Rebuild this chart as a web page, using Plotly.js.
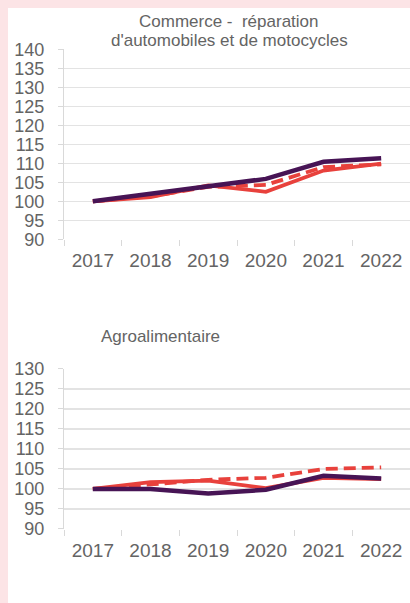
<!DOCTYPE html>
<html>
<head>
<meta charset="utf-8">
<script src="https://cdn.plot.ly/plotly-3.0.1.min.js"></script>
<style>
html, body { margin: 0; padding: 0; background: #fce4e6; width: 410px; height: 603px; overflow: hidden; }
#chart { position: absolute; left: 8px; top: 8px; width: 402px; height: 595px; background: #ffffff; }
</style>
</head>
<body>
<div id="chart"></div>
<script>
// Data
const years = ['2017', '2018', '2019', '2020', '2021', '2022'];

const commercePurple = [100, 102.0, 103.8, 105.9, 110.4, 111.3];
const commerceRed = [100, 101.1, 104.2, 102.5, 108.1, 109.9];
const commerceRedDash = [100, 101.3, 103.8, 104.3, 109.0, 109.7];

const agroPurple = [100, 100, 98.9, 99.8, 103.3, 102.6];
const agroRed = [100, 101.7, 102.1, 100.2, 102.8, 102.5];
const agroRedDash = [100, 101.2, 102.3, 102.8, 105.0, 105.4];

const titleCommerce1 = 'Commerce -  réparation';
const titleCommerce2 = "d'automobiles et de motocycles";
const titleAgro = 'Agroalimentaire';

const purple = '#471455';
const red = '#e8413c';
const textColor = '#646464';
const gridColor = '#e3e3e3';
const fontFam = 'Liberation Sans, Arial, sans-serif';

function mk(y, xa, ya, color, dash, width) {
  return {
    x: years, y: y, xaxis: xa, yaxis: ya, type: 'scatter', mode: 'lines',
    line: { color: color, width: width, dash: dash },
    hoverinfo: 'skip', showlegend: false
  };
}

const traces = [
  mk(commerceRedDash, 'x', 'y', red, '12px,6px', 3.8),
  mk(commerceRed, 'x', 'y', red, 'solid', 3.8),
  mk(commercePurple, 'x', 'y', purple, 'solid', 4.5),
  mk(agroRedDash, 'x2', 'y2', red, '12px,6px', 3.8),
  mk(agroRed, 'x2', 'y2', red, 'solid', 3.8),
  mk(agroPurple, 'x2', 'y2', purple, 'solid', 4.5)
];

function xax(anchor) {
  return {
    type: 'category', anchor: anchor, domain: [0, 1], range: [-0.5, 5.5],
    showgrid: false, zeroline: false, showline: false,
    ticks: 'outside', tickson: 'boundaries', ticklen: 6, tickcolor: '#d9d9d9', tickwidth: 1,
    ticklabelstandoff: 8,
    tickfont: { family: fontFam, size: 19, color: textColor },
    fixedrange: true
  };
}
function yax(anchor, domain, range) {
  return {
    anchor: anchor, domain: domain, range: range, dtick: 5, tick0: 90,
    showgrid: true, gridcolor: gridColor, gridwidth: 1.2, zeroline: false,
    showline: true, linecolor: '#d9d9d9', linewidth: 1,
    ticks: 'outside', ticklen: 5, tickcolor: '#d9d9d9', tickwidth: 1,
    ticklabelstandoff: 10,
    tickfont: { family: fontFam, size: 18, color: textColor },
    fixedrange: true, automargin: false
  };
}

const layout = {
  width: 402, height: 595,
  margin: { l: 56, r: 0, t: 0, b: 0 },
  paper_bgcolor: '#ffffff', plot_bgcolor: '#ffffff',
  showlegend: false,
  xaxis: xax('y'),
  yaxis: yax('x', [0.6113, 0.9306], [90, 140]),
  xaxis2: xax('y2'),
  yaxis2: yax('x2', [0.1244, 0.3933], [90, 130]),
  annotations: [
    { text: titleCommerce1, xref: 'paper', yref: 'paper', x: 0.477, y: 0.9775, xanchor: 'center', yanchor: 'middle', showarrow: false, font: { family: fontFam, size: 17, color: textColor } },
    { text: titleCommerce2, xref: 'paper', yref: 'paper', x: 0.479, y: 0.945, xanchor: 'center', yanchor: 'middle', showarrow: false, font: { family: fontFam, size: 17, color: textColor } },
    { text: titleAgro, xref: 'paper', yref: 'paper', x: 0.2775, y: 0.4487, xanchor: 'center', yanchor: 'middle', showarrow: false, font: { family: fontFam, size: 17, color: textColor } }
  ]
};

Plotly.newPlot('chart', traces, layout, { displayModeBar: false, staticPlot: true });
</script>
</body>
</html>
